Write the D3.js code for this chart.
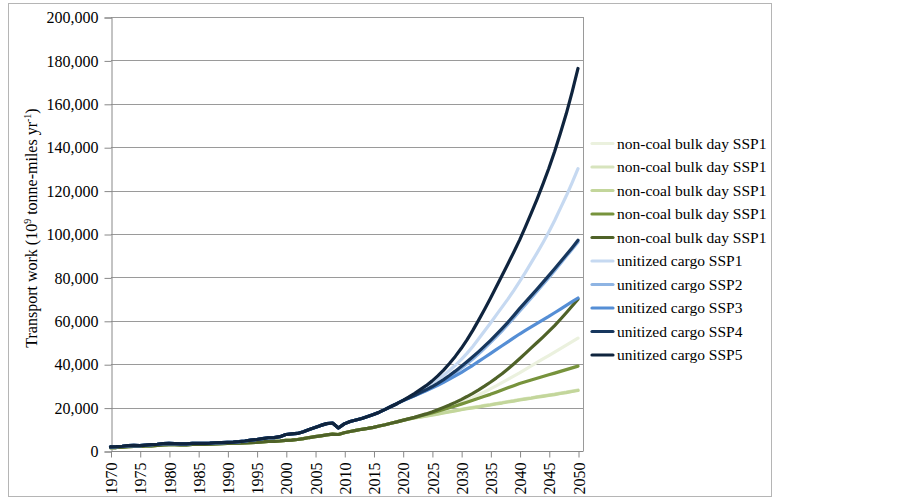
<!DOCTYPE html>
<html><head><meta charset="utf-8">
<script src="https://cdn.jsdelivr.net/npm/d3@7"></script>
<style>
html,body{margin:0;padding:0;background:#fff;}
svg{display:block;font-family:"Liberation Serif","Times New Roman",serif;}
</style></head>
<body><svg id="c" width="902" height="499"></svg>
<script>
// ---- data (values in 10^9 tonne-miles per year) ----
const histYears = d3.range(1970, 2021);   // 1970..2020
const projYears = d3.range(2021, 2051);   // 2021..2050
const yTicks = [0,20000,40000,60000,80000,100000,120000,140000,160000,180000,200000];
const xTicks = [1970,1975,1980,1985,1990,1995,2000,2005,2010,2015,2020,2025,2030,2035,2040,2045,2050];

// historical (thousands)
const unitizedHist = [1.9,2.0,2.2,2.5,2.6,2.5,2.7,2.9,3.1,3.4,3.5,3.4,3.3,3.3,3.5,3.5,3.5,3.6,3.8,3.9,
  4.0,4.1,4.3,4.6,5.0,5.3,5.7,6.1,6.2,6.6,7.6,7.9,8.1,8.9,9.9,10.8,11.8,12.6,12.9,10.6,
  12.5,13.6,14.3,15.0,15.9,16.8,17.9,19.2,20.5,21.8,23.2];
const bulkHist = [1.5,1.6,1.8,2.0,2.1,2.1,2.3,2.4,2.6,2.8,2.9,2.9,2.8,2.8,3.0,3.0,3.0,3.1,3.3,3.4,
  3.5,3.6,3.6,3.7,3.9,4.0,4.2,4.4,4.4,4.6,4.9,5.0,5.3,5.7,6.2,6.6,7.0,7.4,7.8,7.6,
  8.4,9.0,9.5,10.0,10.4,10.9,11.5,12.1,12.8,13.4,14.1];

// projections 2021..2050 (thousands)
const bulk1 = [14.8,15.4,16.1,16.8,17.5,18.3,19.2,20.1,21.1,22.2,23.4,24.6,25.9,27.2,28.6,30.0,31.5,33.0,34.5,36.0,37.6,39.2,40.8,42.4,44.0,45.6,47.2,48.8,50.4,52.0];
const bulk2 = [14.7,15.2,15.7,16.2,16.7,17.2,17.7,18.2,18.7,19.2,19.7,20.1,20.5,21.0,21.4,21.9,22.3,22.8,23.2,23.7,24.1,24.5,25.0,25.4,25.8,26.2,26.7,27.1,27.6,28.1];
const bulk3 = [14.7,15.2,15.6,16.1,16.5,17.0,17.5,18.0,18.5,19.0,19.5,19.9,20.3,20.8,21.2,21.7,22.1,22.6,23.0,23.5,23.9,24.3,24.8,25.2,25.6,26.0,26.5,26.9,27.4,27.9];
const bulk4 = [14.8,15.4,16.1,16.8,17.5,18.3,19.1,19.9,20.7,21.6,22.5,23.4,24.3,25.2,26.1,27.1,28.1,29.1,30.1,31.1,31.9,32.7,33.5,34.3,35.1,35.9,36.7,37.5,38.3,39.1];
const bulk5 = [14.8,15.5,16.3,17.1,18.0,19.0,20.1,21.2,22.4,23.7,25.1,26.6,28.2,29.9,31.7,33.6,35.6,37.8,40.1,42.5,45.0,47.5,50.0,52.5,55.1,57.8,60.7,63.7,66.8,70.0];
const unit1 = [24.6,26.1,27.6,29.2,30.9,32.8,34.9,37.1,39.5,42.1,45.0,48.2,51.7,55.3,58.9,62.6,66.3,70.0,73.9,78.0,82.3,86.8,91.3,96.0,100.9,106.2,111.9,117.6,123.7,130.1];
const unit2 = [24.3,25.5,26.7,28.0,29.3,30.8,32.4,34.2,36.1,38.1,40.2,42.4,44.8,47.3,49.9,52.6,55.4,58.3,61.3,64.4,67.4,70.5,73.6,76.7,79.9,83.1,86.4,89.7,93.0,96.3];
const unit3 = [24.3,25.4,26.6,27.8,29.0,30.3,31.7,33.1,34.6,36.1,37.8,39.5,41.3,43.1,44.9,46.7,48.5,50.3,52.1,53.9,55.6,57.2,58.8,60.4,62.0,63.7,65.4,67.1,68.8,70.5];
const unit4 = [24.4,25.6,26.9,28.2,29.6,31.2,32.9,34.8,36.8,38.9,41.1,43.4,45.8,48.3,50.9,53.6,56.4,59.3,62.4,65.6,68.6,71.6,74.6,77.7,80.8,84.0,87.2,90.4,93.7,97.1];
const unit5 = [24.8,26.5,28.3,30.1,32.2,34.6,37.3,40.3,43.6,47.2,51.2,55.6,60.3,65.2,70.3,75.6,80.9,86.2,91.6,97.2,103.3,109.6,116.1,123.0,130.2,138.0,146.5,155.5,165.5,176.3];

const seriesNames = ["non-coal bulk day SSP1","non-coal bulk day SSP1","non-coal bulk day SSP1","non-coal bulk day SSP1","non-coal bulk day SSP1",
  "unitized cargo SSP1","unitized cargo SSP2","unitized cargo SSP3","unitized cargo SSP4","unitized cargo SSP5"];
const seriesColors = ["#ebf1de","#d7e4bd","#c3d69b","#77933c","#4f6228","#c6d9f1","#8eb4e3","#558ed5","#17375e","#0f243e"];
const seriesHist = [bulkHist,bulkHist,bulkHist,bulkHist,bulkHist,unitizedHist,unitizedHist,unitizedHist,unitizedHist,unitizedHist];
const seriesProj = [bulk1,bulk2,bulk3,bulk4,bulk5,unit1,unit2,unit3,unit4,unit5];

const series = seriesNames.map((name,i)=>({
  name, color: seriesColors[i],
  pts: histYears.map((yr,j)=>({yr, v: seriesHist[i][j]*1000}))
        .concat(projYears.map((yr,j)=>({yr, v: seriesProj[i][j]*1000})))
}));

// ---- layout ----
const svg = d3.select("#c");
const L = 111, R = 583, T = 17, B = 451;
const x = d3.scaleLinear().domain([1970, 2050]).range([110.5, 578]);
const y = d3.scaleLinear().domain([0, 200000]).range([B, T]);

// outer frame
svg.append("rect").attr("x",8.5).attr("y",3.5).attr("width",763).attr("height",493)
  .attr("fill","#fff").attr("stroke","#b5b5b5").attr("stroke-width",1);

// gridlines
svg.append("g").selectAll("line").data(yTicks.filter(d=>d>0)).join("line")
  .attr("x1",L).attr("x2",R).attr("y1",d=>Math.round(y(d))+0.5).attr("y2",d=>Math.round(y(d))+0.5)
  .attr("stroke","#9a9a9a").attr("stroke-width",1);
// right border of plot
svg.append("line").attr("x1",R+0.5).attr("x2",R+0.5).attr("y1",T).attr("y2",B).attr("stroke","#9a9a9a");

// y axis
const yAxis = svg.append("g").attr("transform",`translate(${L+0.5},0.5)`)
  .call(d3.axisLeft(y).tickValues(yTicks).tickSize(7).tickPadding(6).tickFormat(d3.format(",")));
yAxis.select(".domain").attr("stroke","#888");
yAxis.selectAll(".tick line").attr("stroke","#888");
yAxis.selectAll("text").attr("font-family","Liberation Serif, Times New Roman, serif").attr("font-size",16).attr("fill","#000");

// x axis
const xAxis = svg.append("g").attr("transform",`translate(0.5,${B+0.5})`)
  .call(d3.axisBottom(x).tickValues(xTicks).tickSize(6).tickFormat(d3.format("d")));
xAxis.select(".domain").attr("d",`M${L},0H${R}`).attr("stroke","#888");
xAxis.selectAll(".tick line").attr("stroke","#888");
xAxis.selectAll("text").attr("font-family","Liberation Serif, Times New Roman, serif").attr("font-size",16).attr("fill","#000")
  .attr("transform","rotate(-90)").attr("text-anchor","end").attr("dy","0.35em").attr("x",-11).attr("y",0);

// y title
const yt = svg.append("text").attr("transform","translate(37,228) rotate(-90)")
  .attr("text-anchor","middle").attr("font-size",16).attr("fill","#000");
yt.append("tspan").text("Transport work (10");
yt.append("tspan").text("9").attr("font-size",10).attr("dy",-6);
yt.append("tspan").text(" tonne-miles yr").attr("dy",6);
yt.append("tspan").text("-1").attr("font-size",10).attr("dy",-6);
yt.append("tspan").text(")").attr("dy",6);

// lines
const line = d3.line().x(d=>x(d.yr)).y(d=>y(d.v));
svg.append("g").selectAll("path").data(series).join("path")
  .attr("d",d=>line(d.pts)).attr("fill","none").attr("stroke",d=>d.color)
  .attr("stroke-width",3.2).attr("stroke-linejoin","round").attr("stroke-linecap","round");

// legend
const lg = svg.append("g").selectAll("g").data(series).join("g")
  .attr("transform",(d,i)=>`translate(0,${143.5+i*23.5})`);
lg.append("line").attr("x1",592).attr("x2",613).attr("y1",0).attr("y2",0)
  .attr("stroke",d=>d.color).attr("stroke-width",3.2).attr("stroke-linecap","round");
lg.append("text").attr("x",617).attr("y",5).attr("font-size",15.5).attr("fill","#000").text(d=>d.name);
</script></body></html>
